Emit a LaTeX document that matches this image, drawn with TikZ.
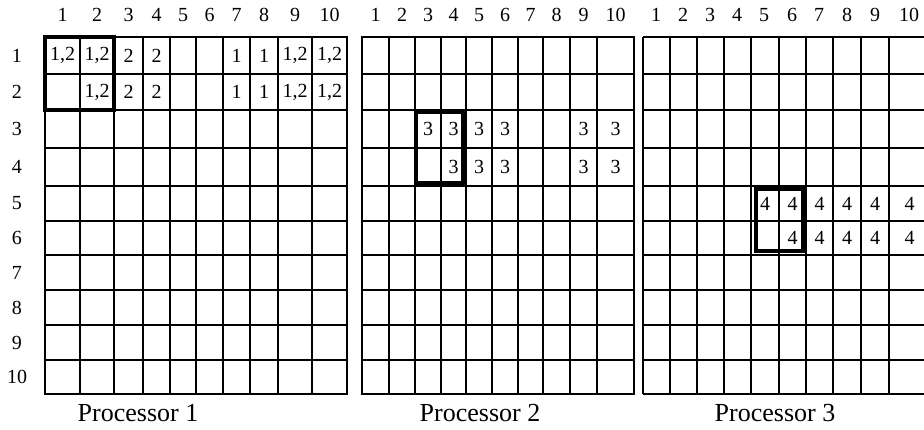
\documentclass[tikz,border=0pt]{standalone}
\usepackage{fontspec}
\setmainfont{Liberation Serif}
\begin{document}
\begin{tikzpicture}[x=1pt,y=-1pt,
  gridline/.style={line width=1.9pt},
  frame/.style={line width=2.5pt},
  hl/.style={line width=4pt},
  lab/.style={font=\fontsize{20}{20}\selectfont, inner sep=0pt},
  cellt/.style={font=\fontsize{20}{20}\selectfont, inner sep=0pt},
  proc/.style={font=\fontsize{26}{26}\selectfont, inner sep=0pt}]
\useasboundingbox (0,0) rectangle (924,430);
% row centres and labels
\foreach \a/\b [count=\i] in {37/74,74/110,110/148,148/186,186/221,221/255,255/290,290/325,325/360,360/394}{
  \coordinate (r\i) at (0,{(\a+\b)/2});
  \node[lab] (rl\i) at (17,{(\a+\b)/2}) {\i};
}
% ---------- grid 1 ----------
\foreach \a/\b [count=\i] in {45/80,80/114,114/143,143/170,170/196,196/223,223/250,250/278,278/312,312/347}{
  \coordinate (a\i) at ({(\a+\b)/2},0);
  \node[lab] (ha\i) at ({(\a+\b)/2},15) {\i};
}
\foreach \x in {80,114,143,170,196,223,250,278,312} \draw[gridline] (\x,37) -- (\x,394);
\foreach \y in {74,110,148,186,221,255,290,325,360} \draw[gridline] (45,\y) -- (347,\y);
\draw[frame] (45,37) rectangle (347,394);
\draw[hl] (45,37) rectangle (114,110);
% ---------- grid 2 ----------
\foreach \a/\b [count=\i] in {362/389,389/415,415/441,441/466,466/492,492/518,518/543,543/570,570/597,597/634}{
  \coordinate (b\i) at ({(\a+\b)/2},0);
  \node[lab] (hb\i) at ({(\a+\b)/2},15) {\i};
}
\foreach \x in {389,415,441,466,492,518,543,570,597} \draw[gridline] (\x,37) -- (\x,394);
\foreach \y in {74,110,148,186,221,255,290,325,360} \draw[gridline] (362,\y) -- (634,\y);
\draw[frame] (362,37) rectangle (634,394);
\draw[hl] (416,112) rectangle (463,183);
% ---------- grid 3 ----------
\foreach \a/\b [count=\i] in {643/670,670/697,697/724,724/751,751/779,779/806,806/833,833/861,861/889,889/930}{
  \coordinate (c\i) at ({(\a+\b)/2},0);
}
\foreach \xc [count=\i] in {656,683,710,737,764,792,819,847,875,909}{
  \node[lab] (hc\i) at (\xc,15) {\i};
}
\foreach \x in {670,697,724,751,779,806,833,861,889} \draw[gridline] (\x,37) -- (\x,394);
\foreach \y in {74,110,148,186,221,255,290,325,360} \draw[gridline] (643,\y) -- (930,\y);
\draw[frame] (643,37) -- (930,37);
\draw[frame] (643,394) -- (930,394);
\draw[frame] (643,37) -- (643,394);
\draw[hl] (756,189) rectangle (803,251);
% ---------- cell entries ----------
\foreach \c/\t in {1/{1,2},2/{1,2},3/2,4/2,7/1,8/1,9/{1,2},10/{1,2}}
  \node[cellt] (pa1-\c) at (a\c |- r1) {\t};
\foreach \c/\t in {2/{1,2},3/2,4/2,7/1,8/1,9/{1,2},10/{1,2}}
  \node[cellt] (pa2-\c) at (a\c |- r2) {\t};
\foreach \c in {3,4,5,6,9,10}
  \node[cellt] (pb3-\c) at (b\c |- r3) {3};
\foreach \c in {4,5,6,9,10}
  \node[cellt] (pb4-\c) at (b\c |- r4) {3};
\foreach \c in {5,6,7,8,9,10}
  \node[cellt] (pc5-\c) at (c\c |- r5) {4};
\foreach \c in {6,7,8,9,10}
  \node[cellt] (pc6-\c) at (c\c |- r6) {4};
% ---------- processor labels ----------
\node[proc] (p1) at (138,413) {Processor 1};
\node[proc] (p2) at (480,413) {Processor 2};
\node[proc] (p3) at (775,413) {Processor 3};
\end{tikzpicture}
\end{document}
